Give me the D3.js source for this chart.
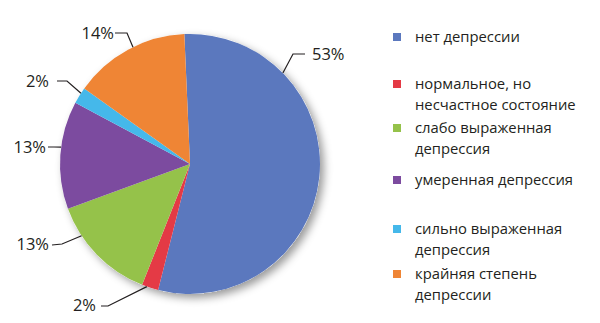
<!DOCTYPE html>
<html>
<head>
<meta charset="utf-8">
<script src="https://cdn.jsdelivr.net/npm/d3@7"></script>
<style>
  body { margin: 0; background: #fff; }
  text { font-family: 'Open Sans', sans-serif; fill: #231f20; }
</style>
</head>
<body>
<script>
const categories = [
  'нет депрессии',
  'нормальное, но\nнесчастное состояние',
  'слабо выраженная\nдепрессия',
  'умеренная депрессия',
  'сильно выраженная\nдепрессия',
  'крайняя степень\nдепрессии'
]
const values = [53, 2, 13, 13, 2, 14]
const labels = ['53%', '2%', '13%', '13%', '2%', '14%']
const colors = ['#5b78be', '#e43a45', '#95c24a', '#7c4b9f', '#45b8ea', '#ef8535']

// layout of the leader lines: angle on the rim, elbow, end of line, label anchor
const leaders = [
  { angle: 45.6, elbow: [293, 54], end: [305, 54], text: [312, 54], anchor: 'start' },
  { angle: 199.4, elbow: [108, 306], end: [101, 306], text: [96, 305], anchor: 'end' },
  { angle: 236.5, elbow: [62, 244], end: [52, 245], text: [49, 244], anchor: 'end' },
  { angle: 277.5, elbow: [54, 147], end: [48, 147], text: [46, 147], anchor: 'end' },
  { angle: 303, elbow: [67, 81], end: [57, 81], text: [49, 81], anchor: 'end' },
  { angle: 334, elbow: [127, 33], end: [115, 33], text: [114, 33], anchor: 'end' }
]
const legendY = [37, 84, 128, 180, 229, 274]

const w = 600
const h = 323
const cx = 190
const cy = 164
const r = 130

const svg = d3.select('body').append('svg').attr('width', w).attr('height', h)

const filter = svg.append('defs').append('filter').attr('id', 'shadow')
  .attr('x', '-20%').attr('y', '-20%').attr('width', '140%').attr('height', '140%')
filter.append('feDropShadow')
  .attr('dx', 4).attr('dy', 4).attr('stdDeviation', 4)
  .attr('flood-color', '#000').attr('flood-opacity', 0.4)

const pie = d3.pie().sort(null).startAngle(-2.5 * Math.PI / 180).endAngle(2 * Math.PI - 2.5 * Math.PI / 180)
const arcs = pie(values)
const arc = d3.arc().innerRadius(0).outerRadius(r)

const g = svg.append('g').attr('transform', `translate(${cx},${cy})`)

g.append('circle').attr('r', r).attr('fill', '#fff').attr('filter', 'url(#shadow)')

g.selectAll('path.slice')
  .data(arcs)
  .enter()
  .append('path')
  .attr('class', 'slice')
  .attr('d', arc)
  .attr('fill', (d, i) => colors[i])

// leader lines and percentage labels
const line = d3.line()
leaders.forEach((l, i) => {
  const p = d3.pointRadial(l.angle * Math.PI / 180, r)
  svg.append('path')
    .attr('d', line([[cx + p[0], cy + p[1]], l.elbow, l.end]))
    .attr('fill', 'none')
    .attr('stroke', '#231f20')
    .attr('stroke-width', 1.2)
  svg.append('text')
    .attr('x', l.text[0])
    .attr('y', l.text[1])
    .attr('dy', '0.35em')
    .attr('text-anchor', l.anchor)
    .attr('font-size', 16.5)
    .text(labels[i])
})

// legend
const legend = svg.append('g')
categories.forEach((c, i) => {
  const y = legendY[i]
  legend.append('rect')
    .attr('x', 393).attr('y', y - 4).attr('width', 8).attr('height', 8)
    .attr('fill', colors[i])
  c.split('\n').forEach((t, j) => {
    legend.append('text')
      .attr('x', 415)
      .attr('y', y + j * 21)
      .attr('dy', '0.35em')
      .attr('font-size', 14.8)
      .text(t)
  })
})
</script>
</body>
</html>
